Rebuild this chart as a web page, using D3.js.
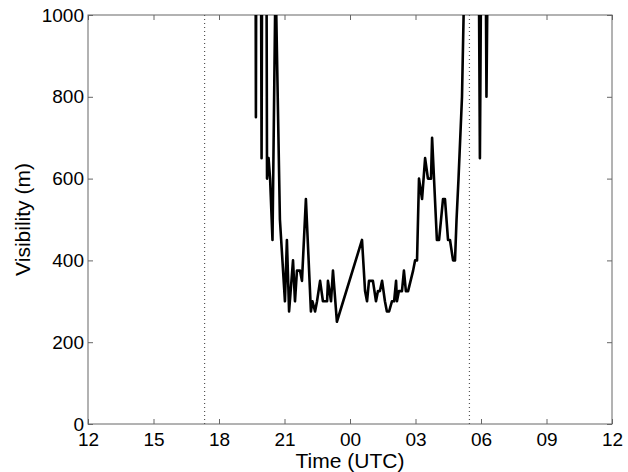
<!DOCTYPE html>
<html>
<head>
<meta charset="utf-8">
<script src="https://cdn.jsdelivr.net/npm/d3@7"></script>
<style>
  html, body { margin: 0; padding: 0; background: #fff; }
  svg { display: block; }
  text { font-family: "Liberation Sans", Arial, Helvetica, sans-serif; fill: #000; }
</style>
</head>
<body>
<svg id="chart" width="628" height="472"></svg>
<script>
// Observation times, in hours from 12 UTC on the first day (values above 24 are the next morning)
const timeHours = [
  19.63, 19.69, 19.76, 19.85, 19.95, 20.04, 20.11, 20.20, 20.27, 20.34,
  20.45, 20.59, 20.79, 21.02, 21.11, 21.21, 21.39, 21.48, 21.57, 21.71,
  21.80, 21.98, 22.21, 22.28, 22.40, 22.49, 22.63, 22.76, 22.95, 22.99,
  23.13, 23.22, 23.40, 24.55, 24.69, 24.78, 24.87, 25.05, 25.19, 25.28,
  25.37, 25.47, 25.60, 25.69, 25.79, 25.92, 26.02, 26.11, 26.15, 26.24,
  26.38, 26.47, 26.56, 26.66, 26.89, 26.98, 27.07, 27.16, 27.30, 27.44,
  27.57, 27.71, 27.76, 27.98, 28.08, 28.26, 28.35, 28.49, 28.58, 28.72,
  28.81, 28.88, 28.97, 29.13, 29.24, 29.86, 29.95, 30.05, 30.18, 30.25,
  30.37, 30.64
];

// Visibility (m) at each observation time
const visibility = [
  2500, 750, 2500, 2500, 650, 2500, 2500, 600, 650, 600,
  450, 1100, 500, 300, 450, 275, 400, 300, 375, 375,
  350, 550, 275, 300, 275, 300, 350, 300, 300, 350,
  300, 375, 250, 450, 325, 300, 350, 350, 300, 325,
  325, 350, 300, 275, 275, 300, 300, 350, 300, 325,
  325, 375, 325, 325, 375, 400, 400, 600, 550, 650,
  600, 600, 700, 450, 450, 550, 550, 450, 450, 400,
  400, 500, 600, 800, 1100, 1500, 650, 1500, 1500, 800,
  1500, 2000
];

// Sunset and sunrise markers (hours from 12 UTC)
const markerHours = [17.34, 29.47];

// Axis ticks
const xTickHours = [12, 15, 18, 21, 24, 27, 30, 33, 36];
const xTickLabels = ["12", "15", "18", "21", "00", "03", "06", "09", "12"];
const yTicks = [0, 200, 400, 600, 800, 1000];

const W = 628, H = 472;
const margin = { top: 15, right: 16, bottom: 48, left: 88 };
const iw = W - margin.left - margin.right;
const ih = H - margin.top - margin.bottom;

const svg = d3.select("#chart");
const g = svg.append("g").attr("transform", `translate(${margin.left},${margin.top})`);

const x = d3.scaleLinear().domain([12, 36]).range([0, iw]);
const y = d3.scaleLinear().domain([0, 1000]).range([ih, 0]);

svg.append("defs").append("clipPath").attr("id", "plot-clip")
  .append("rect").attr("x", 0).attr("y", 0).attr("width", iw).attr("height", ih);

const axisColor = "#666";
const tickLen = 5;
const tickFont = 19;
const titleFont = 21;

// Inward ticks on all four sides, labels on bottom and left only
const xBottom = d3.axisBottom(x).tickValues(xTickHours)
  .tickSizeInner(-tickLen).tickSizeOuter(0).tickPadding(9)
  .tickFormat((d, i) => xTickLabels[i]);
const xTop = d3.axisTop(x).tickValues(xTickHours)
  .tickSizeInner(-tickLen).tickSizeOuter(0).tickFormat("");
const yLeft = d3.axisLeft(y).tickValues(yTicks)
  .tickSizeInner(-tickLen).tickSizeOuter(0).tickPadding(4)
  .tickFormat(d3.format("d"));
const yRight = d3.axisRight(y).tickValues(yTicks)
  .tickSizeInner(-tickLen).tickSizeOuter(0).tickFormat("");

function styleAxis(sel) {
  sel.select(".domain").remove();
  sel.selectAll(".tick line").attr("stroke", axisColor).attr("stroke-width", 1);
  sel.selectAll(".tick text").attr("font-size", tickFont).attr("fill", "#000")
    .style("font-family", '"Liberation Sans", Arial, Helvetica, sans-serif');
}

g.append("g").attr("transform", `translate(0,${ih})`).call(xBottom).call(styleAxis);
g.append("g").call(xTop).call(styleAxis);
g.append("g").call(yLeft).call(styleAxis);
g.append("g").attr("transform", `translate(${iw},0)`).call(yRight).call(styleAxis);

// Box around the plotting area
g.append("rect")
  .attr("x", 0).attr("y", 0).attr("width", iw).attr("height", ih)
  .attr("fill", "none").attr("stroke", axisColor).attr("stroke-width", 1);

// Dotted vertical markers
g.selectAll(".marker").data(markerHours).enter().append("line")
  .attr("class", "marker")
  .attr("x1", d => x(d)).attr("x2", d => x(d))
  .attr("y1", 0).attr("y2", ih)
  .attr("stroke", "#555").attr("stroke-width", 1.2)
  .attr("stroke-dasharray", "1,3");

// Visibility trace
const series = timeHours.map((t, i) => ({ t, v: visibility[i] }));
const line = d3.line().x(d => x(d.t)).y(d => y(d.v));
g.append("g").attr("clip-path", "url(#plot-clip)")
  .append("path")
  .datum(series)
  .attr("d", line)
  .attr("fill", "none")
  .attr("stroke", "#000")
  .attr("stroke-width", 2.6)
  .attr("stroke-linejoin", "round");

// Axis titles
svg.append("text")
  .attr("x", margin.left + iw / 2).attr("y", 468)
  .attr("text-anchor", "middle").attr("font-size", titleFont)
  .text("Time (UTC)");

svg.append("text")
  .attr("transform", `translate(30,${margin.top + ih / 2}) rotate(-90)`)
  .attr("text-anchor", "middle").attr("font-size", titleFont)
  .text("Visibility (m)");
</script>
</body>
</html>
